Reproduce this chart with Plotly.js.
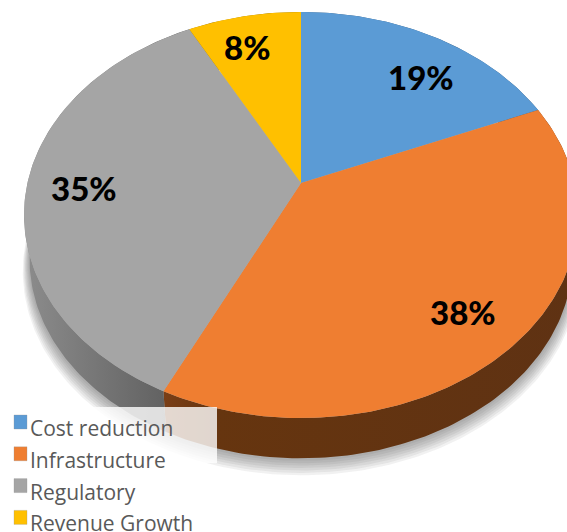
<!DOCTYPE html>
<html><head><meta charset="utf-8">
<script src="https://cdn.plot.ly/plotly-3.0.1.min.js"></script>
<style>html,body{margin:0;padding:0;background:#fff}#c{width:567px;height:532px}</style>
</head><body><div id="c"></div>
<script>
const categories = ["Cost reduction","Infrastructure","Regulatory","Revenue Growth"];
const values = [18.6,38.5,35.2,7.7];
const colors = ["#5B9BD5","#EF7E31","#A5A5A5","#FFC000"];
const rimGradients = [
  [[0,"#375D81"],[1,"#375D81"]],
  [[0,"#7A3E16"],[0.12,"#66350F"],[1,"#5F3213"]],
  [[0,"#8C8C8C"],[0.6,"#6E6E6E"],[1,"#5A5A5A"]],
  [[0,"#997300"],[1,"#997300"]]
];
const labelCenters = [[421,77],[463,312],[84,188],[247,47]];

// perspective view of the pie disc (pixels on hidden axes)
const C = {x:301,y:183,A:273.5,B:198,k:0.1576,depth:45,shrink:0.98};
function proj(deg,r,s,dy){
  const t=deg*Math.PI/180,u=r*Math.sin(t),v=r*Math.cos(t),w=1+C.k*v;
  return [C.x+s*C.A*u/w, C.y+dy-s*C.B*v/w];
}
function arc(a,b,s,dy){
  const p=[];const n=Math.max(2,Math.ceil(Math.abs(b-a)));
  for(let i=0;i<=n;i++)p.push(proj(a+(b-a)*i/n,1,s,dy));
  return p;
}
function poly(pts,extra){
  return Object.assign({type:"scatter",mode:"lines",x:pts.map(p=>p[0]),y:pts.map(p=>p[1]),
    fill:"toself",line:{width:0},hoverinfo:"skip",showlegend:false},extra);
}
const total=values.reduce((a,b)=>a+b,0);
const angles=[0];values.forEach(v=>angles.push(angles[angles.length-1]+v/total*360));

const traces=[];
// soft ground shadow
for(let i=7;i>=1;i--){
  traces.push(poly(arc(0,360,C.shrink+0.0035*i,C.depth+1.6*i),{fillcolor:"rgba(60,60,60,0.07)"}));
}
// side walls
values.forEach((v,i)=>{
  const top=arc(angles[i],angles[i+1],1,0);
  const bot=arc(angles[i],angles[i+1],C.shrink,C.depth).reverse();
  traces.push(poly(top.concat(bot),{name:categories[i]+" side",
    fillgradient:{type:"horizontal",colorscale:rimGradients[i]}}));
});
// top faces
values.forEach((v,i)=>{
  const pts=[[C.x,C.y]].concat(arc(angles[i],angles[i+1],1,0));
  traces.push(poly(pts,{name:categories[i],fillcolor:colors[i]}));
});

const annotations=values.map((v,i)=>({x:labelCenters[i][0],y:labelCenters[i][1],xref:"x",yref:"y",
  text:Math.round(v/total*100)+"%",showarrow:false,xanchor:"center",yanchor:"middle",
  font:{family:"Lato",size:33,color:"#000",weight:900}}));
const legendRowY=i=>428+31.8*i;
const shapes=[{type:"rect",xref:"x",yref:"y",x0:10,x1:217,y0:407,y1:463,fillcolor:"rgba(255,255,255,0.8)",line:{width:0},layer:"above"}];
categories.forEach((c,i)=>{
  annotations.push({x:28,y:legendRowY(i),xref:"x",yref:"y",text:c,showarrow:false,xanchor:"left",yanchor:"middle",
    font:{family:"Open Sans",size:21,color:"#595959"}});
  shapes.push({type:"rect",xref:"x",yref:"y",x0:14,x1:27,y0:legendRowY(i)-13,y1:legendRowY(i)+1,
    fillcolor:colors[i],line:{width:0.6,color:"rgba(150,150,150,0.5)"},layer:"above"});
});
Plotly.newPlot("c",traces,{
  width:567,height:532,margin:{l:0,r:0,t:0,b:0},paper_bgcolor:"#fff",plot_bgcolor:"#fff",showlegend:false,
  xaxis:{range:[0,567],visible:false,fixedrange:true},
  yaxis:{range:[532,0],visible:false,fixedrange:true},
  annotations,shapes
},{displayModeBar:false,staticPlot:true});
</script></body></html>
